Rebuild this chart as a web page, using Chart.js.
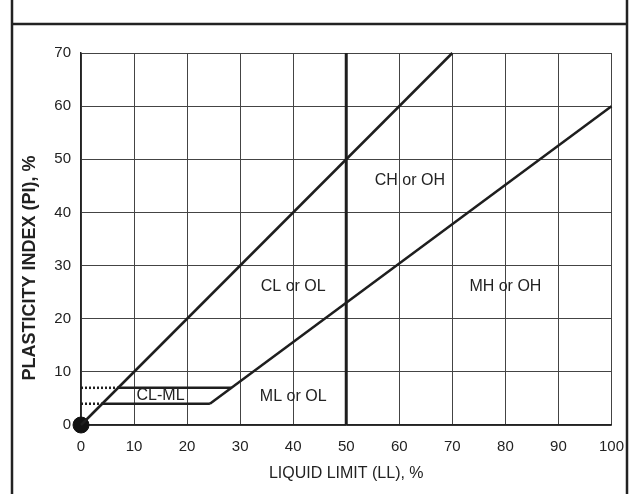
<!DOCTYPE html>
<html>
<head>
<meta charset="utf-8">
<script src="https://cdn.jsdelivr.net/npm/chart.js@4"></script>
<style>
  html, body { margin: 0; padding: 0; background: #fff; }
  #wrap { width: 637px; height: 494px; }
</style>
</head>
<body>
<div id="wrap"><canvas id="plasticityChart" width="637" height="494"></canvas></div>
<script>
// Plasticity chart data (LL, PI)
const upperLine = [{x: 0, y: 0}, {x: 70, y: 70}];
const aLine = [{x: 24.3, y: 4}, {x: 100, y: 60}];
const clmlLow = [{x: 4, y: 4}, {x: 24.3, y: 4}];
const clmlHigh = [{x: 7, y: 7}, {x: 28.4, y: 7}];
const dotLow = [{x: 0, y: 4}, {x: 4, y: 4}];
const dotHigh = [{x: 0, y: 7}, {x: 7, y: 7}];
const llFifty = [{x: 50, y: 0}, {x: 50, y: 70}];
const originPoint = [{x: 0, y: 0}];

// zone labels
const zoneNames = ['CH or OH', 'CL or OL', 'MH or OH', 'ML or OL', 'CL-ML'];
const zoneLL = [62, 40, 80, 40, 15];
const zonePI = [46, 26, 26, 5.3, 5.5];

const ink = '#1e1e1e';
const font = "'Liberation Sans', Arial, sans-serif";

function lineSet(data, width, dash) {
  return {
    data: data,
    showLine: true,
    borderColor: ink,
    borderWidth: width,
    borderDash: dash || [],
    pointRadius: 0,
    clip: false
  };
}

// outer frame of the figure + y axis title (sits lower than axis centre)
const framePlugin = {
  id: 'frame',
  beforeDraw(chart) {
    const c = chart.ctx;
    c.save();
    c.fillStyle = '#fff';
    c.fillRect(0, 0, chart.width, chart.height);
    c.strokeStyle = '#222';
    c.lineWidth = 2.5;
    c.beginPath();
    c.moveTo(12, 0); c.lineTo(12, chart.height);
    c.moveTo(627, 0); c.lineTo(627, chart.height);
    c.moveTo(12, 24); c.lineTo(627, 24);
    c.stroke();

    c.translate(30, 268);
    c.rotate(-Math.PI / 2);
    c.font = 'bold 18px ' + font;
    c.fillStyle = '#222';
    c.textAlign = 'center';
    c.textBaseline = 'middle';
    c.fillText('PLASTICITY INDEX (PI), %', 0, 0);
    c.restore();
  }
};

const zonePlugin = {
  id: 'zones',
  afterDatasetsDraw(chart) {
    const c = chart.ctx;
    const xs = chart.scales.x, ys = chart.scales.y;
    c.save();
    c.font = '16px ' + font;
    c.fillStyle = '#222';
    c.textAlign = 'center';
    c.textBaseline = 'middle';
    zoneNames.forEach((name, i) => {
      c.fillText(name, xs.getPixelForValue(zoneLL[i]), ys.getPixelForValue(zonePI[i]));
    });
    c.restore();
  }
};

const ctx = document.getElementById('plasticityChart').getContext('2d');
const chart = new Chart(ctx, {
  type: 'scatter',
  data: {
    datasets: [
      lineSet(upperLine, 2.5),
      lineSet(aLine, 2.5),
      lineSet(clmlLow, 2.5),
      lineSet(clmlHigh, 2.5),
      lineSet(dotLow, 2.5, [2, 2]),
      lineSet(dotHigh, 2.5, [2, 2]),
      lineSet(llFifty, 3),
      {
        data: originPoint,
        pointRadius: 8,
        pointBackgroundColor: '#111',
        pointBorderColor: '#111',
        clip: false
      }
    ]
  },
  options: {
    responsive: false,
    animation: false,
    layout: { padding: { left: 0, right: 23, top: 53, bottom: 0 } },
    plugins: { legend: { display: false }, tooltip: { enabled: false } },
    scales: {
      x: {
        type: 'linear',
        min: 0, max: 100,
        afterFit(scale) { scale.height = 69; },
        grid: { color: '#444', lineWidth: 1, drawTicks: false },
        border: { color: '#222', width: 1.5 },
        ticks: { stepSize: 10, padding: 13, color: '#222', font: { family: font, size: 15 } },
        title: {
          display: true,
          text: 'LIQUID LIMIT (LL), %',
          color: '#222',
          font: { family: font, size: 16 },
          padding: { top: 0, bottom: 11 }
        }
      },
      y: {
        type: 'linear',
        min: 0, max: 70,
        afterFit(scale) { scale.width = 81; },
        grid: { color: '#444', lineWidth: 1, drawTicks: false },
        border: { color: '#222', width: 1.5 },
        ticks: { stepSize: 10, padding: 10, color: '#222', font: { family: font, size: 15 } },
        title: { display: false }
      }
    }
  },
  plugins: [framePlugin, zonePlugin]
});
</script>
</body>
</html>
